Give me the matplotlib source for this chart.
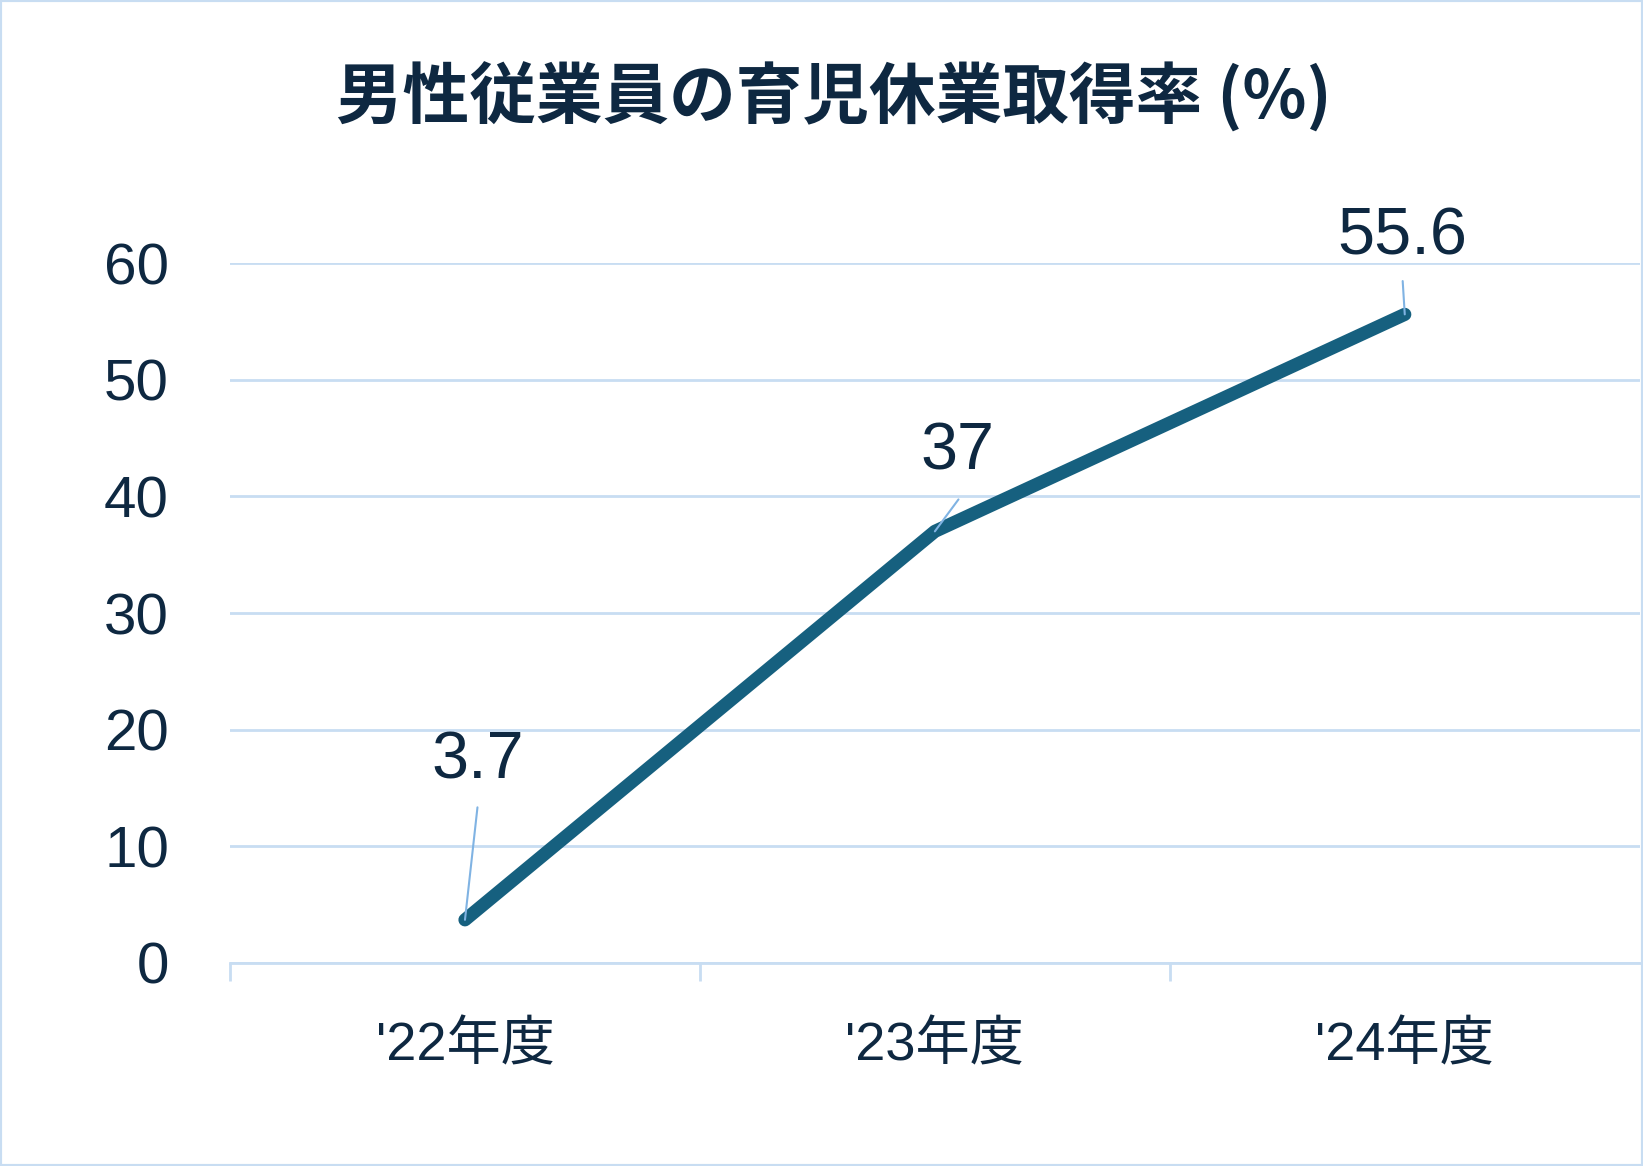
import matplotlib
matplotlib.use('Agg')
import matplotlib.pyplot as plt
from matplotlib.patches import Rectangle

plt.rcParams['font.family'] = ['Liberation Sans', 'Noto Sans CJK JP', 'DejaVu Sans']

# data
years = ["'22年度", "'23年度", "'24年度"]
rates = [3.7, 37, 55.6]
rate_labels = ['3.7', '37', '55.6']
yticks = [0, 10, 20, 30, 40, 50, 60]

navy = '#0e2841'
line_col = '#16607f'
grid_col = '#c8ddf2'
leader_col = '#80b3e3'

fig = plt.figure(figsize=(16.43, 11.66), dpi=100)
ax = fig.add_axes([0.140, 0.1741, 0.858, 0.6003])

x = list(range(len(years)))
ax.plot(x, rates, color=line_col, lw=9.5, solid_capstyle='round', solid_joinstyle='round', zorder=3)

ax.set_xlim(-0.5, len(years) - 0.5)
ax.set_ylim(0, 60)
ax.set_yticks(yticks)
ax.set_yticklabels([str(v) for v in yticks], fontsize=42, color=navy)
ax.set_xticks(x)
ax.set_xticklabels(years, fontsize=39, color=navy)
ax.tick_params(axis='x', length=0, pad=42)
ax.tick_params(axis='y', length=0, pad=44)
# category boundary ticks (last one sits at the frame, not drawn)
ax.set_xticks([i - 0.5 for i in range(len(years))], minor=True)
ax.tick_params(axis='x', which='minor', length=13, width=2, color=grid_col)

ax.grid(axis='y', color=grid_col, lw=2)
ax.set_axisbelow(True)
for s in ['top', 'right', 'left']:
    ax.spines[s].set_visible(False)
ax.spines['bottom'].set_color(grid_col)
ax.spines['bottom'].set_linewidth(2)

# labels with leader lines (offsets in points)
label_off = [(9, -114), (16, -57), (-2, -55)]
leader_off = [(9, -81), (17, -23), (-1.5, -24)]
for xi, v, t, lo, ld in zip(x, rates, rate_labels, label_off, leader_off):
    ax.annotate('', xy=(xi, v), xytext=(ld[0], -ld[1]), textcoords='offset points',
                arrowprops=dict(arrowstyle='-', color=leader_col, lw=1.5, shrinkA=0, shrinkB=0),
                zorder=4)
    ax.annotate(t, xy=(xi, v), xytext=(lo[0], -lo[1]), textcoords='offset points',
                ha='center', va='center', fontsize=48, color=navy, zorder=5)

fig.text(0.5075, 0.916, '男性従業員の育児休業取得率 (%)', ha='center', va='center',
         fontsize=48, fontweight='bold', color=navy,
         family=['Noto Sans CJK JP', 'DejaVu Sans'])

fig.patches.append(Rectangle((0, 0), 1, 1, transform=fig.transFigure, fill=False,
                             edgecolor=grid_col, lw=3, zorder=10))

fig.savefig('out.png', dpi=100)
